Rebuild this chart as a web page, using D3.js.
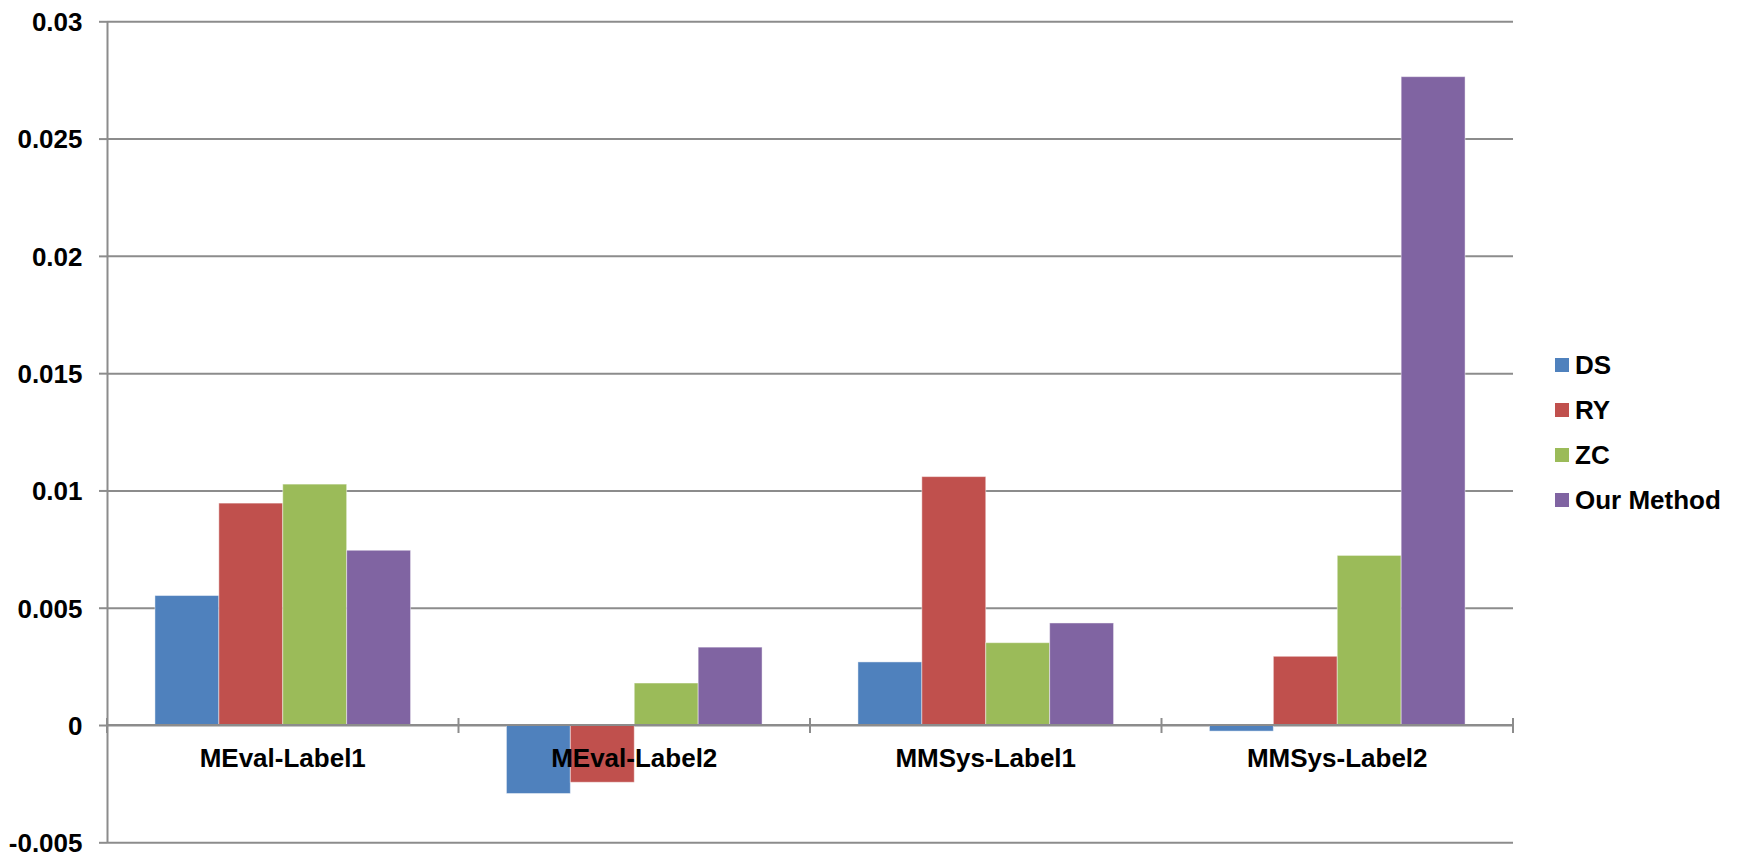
<!doctype html>
<html lang="en">
<head>
  <meta charset="utf-8">
  <script src="https://cdn.jsdelivr.net/npm/d3@7"></script>
</head>
<style>
    body {
        margin: 0;
        background-color: white;
        font-family: "Liberation Sans", Arial, Helvetica, sans-serif;
    }
    svg text {
        font-weight: bold;
        font-size: 26px;
        fill: black;
    }
</style>
<body>
</body>
<script>

    let categories = ["MEval-Label1", "MEval-Label2", "MMSys-Label1", "MMSys-Label2"]
    let seriesNames = ["DS", "RY", "ZC", "Our Method"]
    let seriesColors = ["#4F81BD", "#C0504D", "#9BBB59", "#8064A2"]

    // one array per series, same order as categories
    let dsValues = [0.00552, -0.00292, 0.00269, -0.00026]
    let ryValues = [0.00946, -0.00244, 0.01059, 0.00293]
    let zcValues = [0.01027, 0.00179, 0.00351, 0.00723]
    let ourValues = [0.00745, 0.00332, 0.00435, 0.02764]

    let yTicks = [-0.005, 0, 0.005, 0.01, 0.015, 0.02, 0.025, 0.03]

    let allSeries = [dsValues, ryValues, zcValues, ourValues]

    let width = 1742, height = 856
    let plotLeft = 107, plotRight = 1513, plotTop = 21.3, plotBottom = 842.3

    let svg = d3.select('body')
        .append('svg')
        .attr('width', width)
        .attr('height', height)

    let y = d3.scaleLinear()
        .domain([-0.005, 0.03])
        .range([plotBottom, plotTop])

    let x0 = d3.scaleBand()
        .domain(categories)
        .range([plotLeft, plotRight])
        .paddingInner(0)
        .paddingOuter(0)

    // excel style: gap width 150% of a bar
    let bw = x0.bandwidth()
    let groupW = bw * 4 / 5.5
    let x1 = d3.scaleBand()
        .domain(seriesNames)
        .range([(bw - groupW) / 2, (bw + groupW) / 2])

    let gridColor = '#8c8c8c'

    // gridlines
    svg.append('g')
        .attr('transform', 'translate(' + plotLeft + ',0)')
        .call(d3.axisLeft(y).tickValues(yTicks).tickSize(-(plotRight - plotLeft)).tickFormat(''))
        .call(g => g.select('.domain').remove())
        .call(g => g.selectAll('line').attr('stroke', gridColor).attr('stroke-width', 2))

    // y axis with outer ticks and labels
    svg.append('g')
        .attr('transform', 'translate(' + plotLeft + ',0)')
        .call(d3.axisLeft(y).tickValues(yTicks).tickSizeInner(8).tickSizeOuter(0).tickPadding(16.5)
            .tickFormat(d => String(+d.toFixed(3))))
        .call(g => g.select('.domain').attr('stroke', gridColor).attr('stroke-width', 2))
        .call(g => g.selectAll('line').attr('stroke', gridColor).attr('stroke-width', 2))
        .call(g => g.selectAll('text')
            .attr('dy', '0.36em')
            .style('font-family', '"Liberation Sans", Arial, sans-serif')
            .style('font-size', '26px')
            .style('font-weight', 'bold')
            .attr('fill', 'black'))

    // bars
    let groups = svg.append('g')
        .selectAll('g')
        .data(categories)
        .join('g')
        .attr('transform', c => 'translate(' + x0(c) + ',0)')

    groups.selectAll('rect')
        .data((c, ci) => seriesNames.map((s, si) => ({ s: s, si: si, v: allSeries[si][ci] })))
        .join('rect')
        .attr('x', d => x1(d.s))
        .attr('width', x1.bandwidth())
        .attr('y', d => y(Math.max(0, d.v)))
        .attr('height', d => Math.abs(y(d.v) - y(0)))
        .attr('fill', d => seriesColors[d.si])
        .attr('stroke', 'white')
        .attr('stroke-opacity', 0.45)
        .attr('stroke-width', 1)

    // category axis at zero
    let xAxis = svg.append('g')
        .attr('transform', 'translate(0,' + y(0) + ')')

    xAxis.append('line')
        .attr('x1', plotLeft)
        .attr('x2', plotRight)
        .attr('stroke', gridColor)
        .attr('stroke-width', 2)

    let bounds = categories.map(c => x0(c)).concat([plotRight])
    xAxis.selectAll('.ctick')
        .data(bounds)
        .join('line')
        .attr('class', 'ctick')
        .attr('x1', d => d)
        .attr('x2', d => d)
        .attr('y1', -7)
        .attr('y2', 8)
        .attr('stroke', gridColor)
        .attr('stroke-width', 2)

    svg.append('g')
        .selectAll('text')
        .data(categories)
        .join('text')
        .attr('x', c => x0(c) + bw / 2)
        .attr('y', 767)
        .attr('text-anchor', 'middle')
        .text(c => c)

    // legend
    let legend = svg.append('g')
        .attr('transform', 'translate(1555,358)')

    let items = legend.selectAll('g')
        .data(seriesNames)
        .join('g')
        .attr('transform', (d, i) => 'translate(0,' + (i * 45) + ')')

    items.append('rect')
        .attr('width', 14)
        .attr('height', 14)
        .attr('fill', (d, i) => seriesColors[i])

    items.append('text')
        .attr('x', 20)
        .attr('y', 15.5)
        .text(d => d)

</script>
</html>
